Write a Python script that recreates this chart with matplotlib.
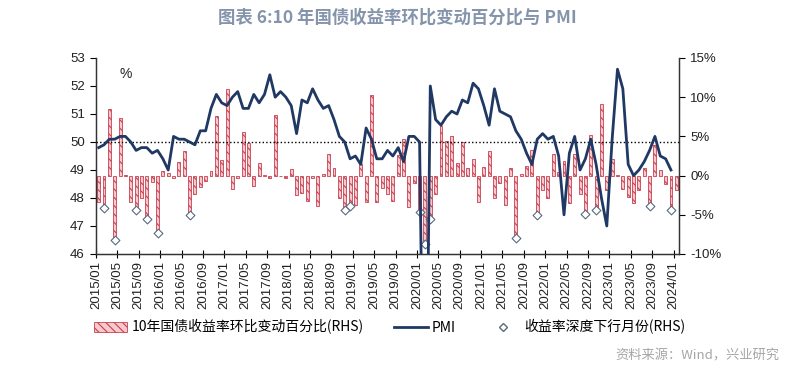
import numpy as np
import matplotlib
matplotlib.use("Agg")
import matplotlib.pyplot as plt
from matplotlib.patches import Patch
from matplotlib.lines import Line2D
from matplotlib.ticker import FuncFormatter

plt.rcParams['font.family'] = ['Noto Sans CJK SC', 'DejaVu Sans']
plt.rcParams['hatch.linewidth'] = 0.8

# 月度PMI, 2015/01 - 2023/12
pmi = [49.8, 49.9, 50.1, 50.1, 50.2, 50.2, 50.0, 49.7, 49.8, 49.8, 49.6, 49.7,
       49.4, 49.0, 50.2, 50.1, 50.1, 50.0, 49.9, 50.4, 50.4, 51.2, 51.7, 51.4,
       51.3, 51.6, 51.8, 51.2, 51.2, 51.7, 51.4, 51.7, 52.4, 51.6, 51.8, 51.6,
       51.3, 50.3, 51.5, 51.4, 51.9, 51.5, 51.2, 51.3, 50.8, 50.2, 50.0, 49.4,
       49.5, 49.2, 50.5, 50.1, 49.4, 49.4, 49.7, 49.5, 49.8, 49.3, 50.2, 50.2,
       50.0, 35.7, 52.0, 50.8, 50.6, 50.9, 51.1, 51.0, 51.5, 51.4, 52.1, 51.9,
       51.3, 50.6, 51.9, 51.1, 51.0, 50.9, 50.4, 50.1, 49.6, 49.2, 50.1, 50.3,
       50.1, 50.2, 49.5, 47.4, 49.6, 50.2, 49.0, 49.4, 50.1, 49.2, 48.0, 47.0,
       50.1, 52.6, 51.9, 49.2, 48.8, 49.0, 49.3, 49.7, 50.2, 49.5, 49.4, 49.0]

# 10年国债收益率环比变动(%), 2015/01 - 2024/01
yld_chg = [-3.4, -4.1, 8.5, -8.2, 7.3, 0.1, -3.4, -4.4, -2.8, -5.5, -0.8, -7.3,
           0.6, 0.3, -0.3, 1.7, 3.1, -5.0, -2.4, -1.4, -0.7, 0.6, 7.6, 2.0,
           11.1, -1.7, -0.3, 5.6, 4.1, -1.3, 1.6, 0.1, -0.3, 7.7, -0.1, -0.3,
           0.9, -2.5, -2.2, -3.3, -0.3, -3.9, 0.2, 2.7, 1.0, -2.9, -4.4, -3.9,
           -3.8, 1.5, -3.4, 10.3, -3.4, -1.6, -2.3, -3.2, 2.6, 4.7, -4.0, -1.0,
           -4.7, -8.7, -5.5, -2.4, 6.3, 4.4, 5.0, 1.6, 4.3, 1.0, 2.1, -3.4,
           1.1, 3.2, -2.9, -1.0, -3.8, 1.0, -8.0, 0.2, 1.2, 3.3, -5.0, -1.8,
           -2.9, 2.8, 0.4, 1.8, -3.5, 2.8, -2.4, -4.9, 5.2, -4.4, 9.1, -1.8,
           2.1, 0.1, -1.7, -2.7, -3.5, -1.9, 1.0, -3.9, 3.9, 0.7, -1.1, -4.4,
           -1.9]

# 收益率深度下行月份(序号)
deep_idx = [1, 3, 7, 9, 11, 17, 46, 47, 60, 61, 62, 78, 82, 91, 93, 103, 107]

tick_labels = ['2015/01', '2015/05', '2015/09', '2016/01', '2016/05', '2016/09',
               '2017/01', '2017/05', '2017/09', '2018/01', '2018/05', '2018/09',
               '2019/01', '2019/05', '2019/09', '2020/01', '2020/05', '2020/09',
               '2021/01', '2021/05', '2021/09', '2022/01', '2022/05', '2022/09',
               '2023/01', '2023/05', '2023/09', '2024/01']

navy = '#1F3864'
red = '#C8404F'
tick_font = ['Liberation Sans', 'DejaVu Sans']

fig = plt.figure(figsize=(7.87, 3.81), dpi=100)
ax = fig.add_axes([96 / 787, 1 - 254 / 381, (679 - 96) / 787, (254 - 58) / 381])
ax2 = ax.twinx()

x_bar = np.arange(len(yld_chg)) + 0.5
x_pmi = np.arange(len(pmi)) + 0.5

ax2.bar(x_bar, yld_chg, width=0.55, facecolor='#F7C9CF', edgecolor=red,
        linewidth=0.6, hatch='\\\\\\\\', zorder=2)
deep_vals = [yld_chg[i] for i in deep_idx]
ax2.scatter([x_bar[i] for i in deep_idx], deep_vals, marker='D', s=20,
            facecolor='white', edgecolor='#5B6B80', linewidth=0.8, zorder=3)
ax2.set_ylim(-10, 15)
ax2.set_yticks([-10, -5, 0, 5, 10, 15])
ax2.yaxis.set_major_formatter(FuncFormatter(lambda v, p: '%d%%' % v))

ax.set_zorder(ax2.get_zorder() + 1)
ax.patch.set_visible(False)
ax.plot(x_pmi, pmi, color=navy, linewidth=2.0, zorder=4)
ax.axhline(50, color='black', linestyle=(0, (1, 1.6)), linewidth=1.0, zorder=3)
ax.set_ylim(46, 53)
ax.set_yticks(range(46, 54))
ax.set_xlim(0, 109)
ax.set_xticks(np.arange(0, 109, 4))
ax.set_xticklabels(tick_labels, rotation=90)

for a in (ax, ax2):
    a.spines['top'].set_visible(False)
    for s in ('left', 'right', 'bottom'):
        a.spines[s].set_color('#333333')
        a.spines[s].set_linewidth(0.9)
    for lab in a.get_yticklabels() + a.get_xticklabels():
        lab.set_family(tick_font)
        lab.set_fontsize(9.5)
        lab.set_color('#222222')
ax.tick_params(axis='x', direction='inout', length=6, width=0.8, pad=2)
ax.tick_params(axis='y', direction='out', length=4, width=0.8, pad=4)
ax2.tick_params(axis='y', direction='out', length=4, width=0.8, pad=4)

ax.text(0.04, 0.9, '%', transform=ax.transAxes, fontsize=10,
        family=tick_font, color='#222222')

fig.text(0.505, 0.953, '图表 6:10 年国债收益率环比变动百分比与 PMI',
         ha='center', va='center', fontsize=12.5, fontweight='bold',
         color='#8494AB')

handles = [Patch(facecolor='#F7C9CF', edgecolor=red, hatch='\\\\\\\\', linewidth=0.6),
           Line2D([], [], color=navy, linewidth=2.0),
           Line2D([], [], marker='D', linestyle='none', markersize=4,
                  markerfacecolor='white', markeredgecolor='#5B6B80')]
labels = ['10年国债收益率环比变动百分比(RHS)', 'PMI', '收益率深度下行月份(RHS)']
fig.legend(handles, labels, loc='center', bbox_to_anchor=(0.495, 1 - 327 / 381),
           ncol=3, frameon=False, fontsize=10, handlelength=2.4,
           columnspacing=2.2, handletextpad=0.3)

fig.text(0.99, 1 - 356 / 381, '资料来源：Wind，兴业研究', ha='right', va='center',
         fontsize=9.5, color='#A6A6A6')

fig.savefig('out.png', dpi=100)
